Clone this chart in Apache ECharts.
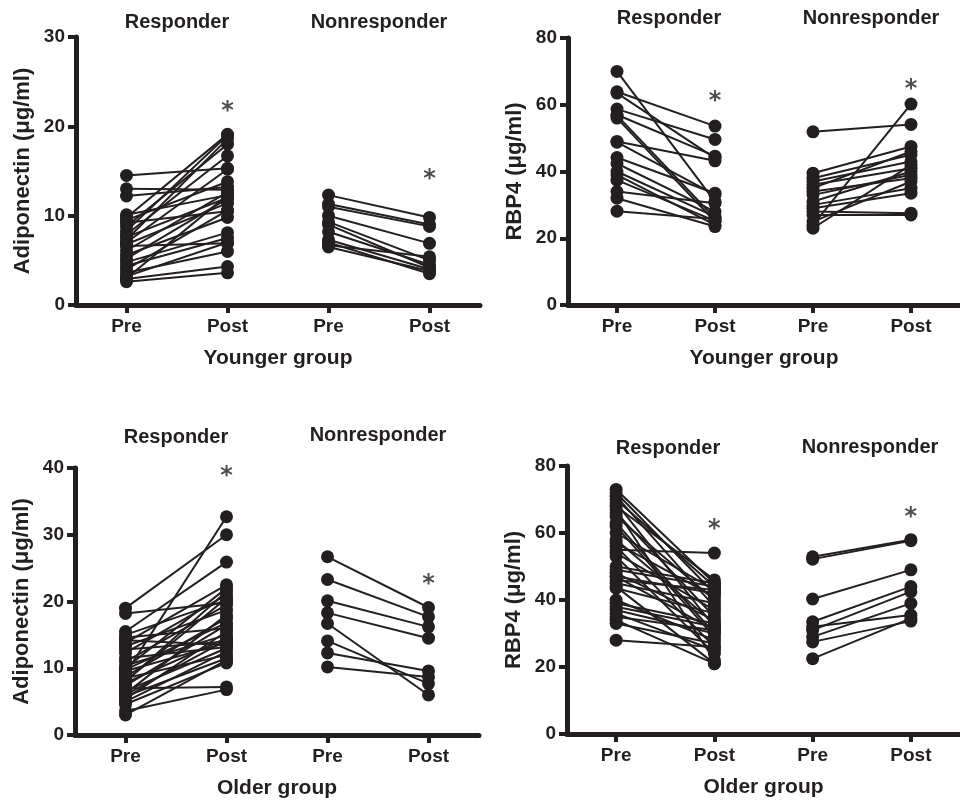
<!DOCTYPE html>
<html>
<head>
<meta charset="utf-8">
<script src="https://cdn.jsdelivr.net/npm/echarts@6/dist/echarts.min.js"></script>
<style>html,body{margin:0;padding:0;background:#fff;}#c{width:960px;height:800px;}</style>
</head>
<body>
<div id="c"></div>
<script>
// ---- categories / labels ----
var xLabels = ['Pre', 'Post', 'Pre', 'Post'];
var groupTitles = ['Responder', 'Nonresponder'];
var xNames = ['Younger group', 'Younger group', 'Older group', 'Older group'];
var yNames = ['Adiponectin (\u03bcg/ml)', 'RBP4 (\u03bcg/ml)', 'Adiponectin (\u03bcg/ml)', 'RBP4 (\u03bcg/ml)'];
var yMax = [30, 80, 40, 80];
var yInterval = [10, 20, 10, 20];

// ---- Younger group, adiponectin ----
var ya_respPre  = [14.5, 13.0, 12.2, 10.1, 9.8, 9.5, 9.2, 8.8, 8.3, 7.9, 7.6, 7.3, 7.0, 6.8, 6.6, 6.1, 5.6, 5.2, 4.8, 4.4, 4.0, 3.6, 3.2, 2.9, 2.6, 3.0];
var ya_respPost = [15.3, 12.9, 13.2, 12.3, 19.1, 13.8, 10.5, 18.0, 19.0, 16.7, 12.0, 18.6, 15.2, 11.4, 6.9, 12.6, 9.8, 11.9, 8.1, 7.5, 10.6, 6.0, 7.0, 4.3, 3.6, 12.3];
var ya_nonPre   = [12.3, 11.3, 11.0, 10.0, 9.3, 9.0, 8.2, 7.3, 7.0, 6.5, 6.7];
var ya_nonPost  = [9.8, 9.0, 8.8, 6.9, 5.0, 4.2, 4.5, 4.0, 3.5, 3.8, 5.4];

// ---- Younger group, RBP4 ----
var yr_respPre  = [70.0, 63.9, 63.5, 58.7, 57.0, 56.8, 56.0, 49.0, 48.8, 44.2, 42.4, 40.0, 39.0, 37.4, 34.0, 32.0, 28.1];
var yr_respPost = [31.0, 53.6, 44.0, 49.6, 44.6, 26.0, 25.0, 43.2, 33.0, 33.5, 28.0, 26.5, 24.0, 25.2, 30.5, 23.5, 25.8];
var yr_nonPre   = [51.9, 24.0, 39.5, 38.0, 37.0, 36.0, 35.0, 34.0, 33.0, 31.0, 30.0, 29.0, 28.0, 27.0, 25.0, 23.0];
var yr_nonPost  = [54.1, 60.2, 47.5, 45.0, 43.0, 41.0, 46.0, 38.0, 39.0, 40.0, 35.0, 33.5, 27.5, 27.0, 37.0, 42.0];

// ---- Older group, adiponectin ----
var oa_respPre  = [19.0, 18.2, 15.5, 15.0, 14.6, 14.2, 13.8, 13.3, 12.8, 12.3, 11.5, 11.0, 10.4, 10.0, 9.6, 9.2, 8.8, 8.5, 8.1, 7.8, 7.4, 7.0, 6.6, 6.2, 5.8, 5.4, 5.0, 4.6, 3.6, 3.0, 8.0, 9.8, 6.0];
var oa_respPost = [30.0, 19.8, 25.9, 20.2, 16.0, 13.5, 22.5, 18.7, 14.0, 21.0, 13.2, 19.5, 15.0, 22.0, 13.8, 32.7, 17.5, 12.0, 20.5, 14.5, 16.5, 7.2, 13.0, 18.0, 11.5, 15.5, 12.5, 10.8, 6.8, 11.2, 21.5, 16.8, 14.2];
var oa_nonPre   = [26.7, 23.3, 20.1, 18.3, 16.7, 14.1, 12.3, 10.2];
var oa_nonPost  = [19.1, 17.7, 16.2, 14.5, 6.0, 7.7, 9.6, 8.7];

// ---- Older group, RBP4 ----
var or_respPre  = [73, 72, 71, 70, 69, 68, 67, 66, 65, 63, 60, 57, 56, 55, 54, 53, 50, 49, 48, 47, 46, 45, 44, 43.5, 40, 39, 38, 37, 36, 35, 34, 33, 28, 47, 58, 62];
var or_respPost = [45, 42, 38, 44, 32, 46, 22, 35, 40, 30, 43, 41, 26, 54, 37, 24, 45, 44, 34, 31, 43, 39, 21, 36, 28, 33, 32, 30, 25, 31, 21, 27, 26, 42, 33, 29];
var or_nonPre   = [52.9, 52.2, 40.3, 33.5, 32.0, 31.0, 29.0, 27.5, 22.5];
var or_nonPost  = [58.0, 57.7, 49.0, 44.0, 35.5, 42.5, 39.0, 33.7, 34.5];

// ---- significance markers (x category index, y value) ----
var stars = [
  [[1, 22.2], [3, 14.6]],
  [[1, 62.4], [3, 65.9]],
  [[1, 39.4], [3, 23.2]],
  [[1, 62.4], [3, 65.9]]
];

var panels = [
  [ya_respPre, ya_respPost, ya_nonPre, ya_nonPost],
  [yr_respPre, yr_respPost, yr_nonPre, yr_nonPost],
  [oa_respPre, oa_respPost, oa_nonPre, oa_nonPost],
  [or_respPre, or_respPost, or_nonPre, or_nonPost]
];

// ---- layout ----
var grids = [
  {left: 76, top: 37, width: 404, height: 268},
  {left: 568, top: 38, width: 404, height: 267},
  {left: 75, top: 468, width: 404, height: 267},
  {left: 567, top: 466, width: 404, height: 268}
];
var titleY = [[22, 22], [18, 18], [437, 435], [448, 447]];

var INK = '#231f20';
var FONT = '"Liberation Sans", Arial, Helvetica, sans-serif';

var xAxes = [], yAxes = [], series = [], graphics = [];
for (var p = 0; p < 4; p++) {
  xAxes.push({
    gridIndex: p, type: 'value', min: -0.5, max: 3.5,
    name: xNames[p], nameLocation: 'middle', nameGap: 43,
    nameTextStyle: {fontFamily: FONT, fontWeight: 'bold', fontSize: 21, color: INK},
    axisLine: {show: true, onZero: false, lineStyle: {color: INK, width: 5}},
    axisTick: {show: true, customValues: [0, 1, 2, 3], length: 8, lineStyle: {color: INK, width: 4}},
    axisLabel: {
      customValues: [0, 1, 2, 3], margin: 12,
      fontFamily: FONT, fontWeight: 'bold', fontSize: 19, color: INK,
      formatter: function (v) { return xLabels[Math.round(v)]; }
    },
    splitLine: {show: false}
  });
  yAxes.push({
    gridIndex: p, type: 'value', min: 0, max: yMax[p], interval: yInterval[p],
    name: yNames[p], nameLocation: 'middle', nameGap: 42, nameRotate: 90,
    nameTextStyle: {fontFamily: FONT, fontWeight: 'bold', fontSize: 22, color: INK},
    axisLine: {show: true, onZero: false, lineStyle: {color: INK, width: 5}},
    axisTick: {show: true, length: 8, lineStyle: {color: INK, width: 4}},
    axisLabel: {margin: 11, fontFamily: FONT, fontWeight: 'bold', fontSize: 19, color: INK},
    splitLine: {show: false}
  });
  var d = panels[p];
  for (var g = 0; g < 2; g++) {
    var pre = d[g * 2], post = d[g * 2 + 1];
    for (var j = 0; j < pre.length; j++) {
      series.push({
        type: 'line', xAxisIndex: p, yAxisIndex: p,
        data: [[g * 2, pre[j]], [g * 2 + 1, post[j]]],
        symbol: 'circle', symbolSize: 13, showSymbol: true,
        itemStyle: {color: INK},
        lineStyle: {color: INK, width: 2},
        animation: false, silent: true
      });
    }
  }
  series.push({
    type: 'scatter', xAxisIndex: p, yAxisIndex: p,
    data: stars[p], symbolSize: 1, itemStyle: {color: 'rgba(0,0,0,0)'},
    label: {show: true, position: 'inside', formatter: '*', offset: [0, 5],
      fontFamily: '"DejaVu Sans", sans-serif', fontWeight: 'bold', fontSize: 24, color: INK},
    animation: false, silent: true, clip: false
  });
  var gr = grids[p];
  var band = gr.width / 4;
  for (var t = 0; t < 2; t++) {
    graphics.push({
      type: 'text',
      x: gr.left + band * (1 + 2 * t), y: titleY[p][t],
      style: {text: groupTitles[t], fill: INK, font: 'bold 20px ' + FONT,
        textAlign: 'center', textVerticalAlign: 'middle'}
    });
  }
}

var chart = echarts.init(document.getElementById('c'), null, {renderer: 'canvas'});
chart.setOption({
  animation: false,
  backgroundColor: '#fff',
  grid: grids.map(function (g) { return Object.assign({containLabel: false}, g); }),
  xAxis: xAxes,
  yAxis: yAxes,
  series: series,
  graphic: graphics
});
</script>
</body>
</html>
